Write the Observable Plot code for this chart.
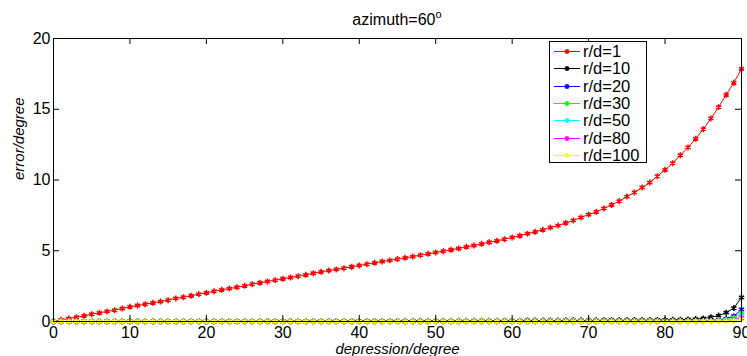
<!DOCTYPE html>
<html>
<head>
<meta charset="utf-8">
<script src="https://cdn.jsdelivr.net/npm/d3@7"></script>
<script src="https://cdn.jsdelivr.net/npm/@observablehq/plot@0.6"></script>
<style>
  html, body { margin: 0; padding: 0; background: #fff; }
  #wrap { position: relative; width: 747px; height: 356px; font-family: "Liberation Sans", Arial, sans-serif; }
  #title { position: absolute; left: 297px; width: 200px; top: 11px; text-align: center; font-size: 16px; line-height: 18px; color: #000; }
  #title sup { font-size: 11px; vertical-align: 7px; line-height: 0; }
  #legend { position: absolute; left: 549px; top: 41px; width: 98px; height: 122px; border: 1px solid #000; background: #fff; box-sizing: border-box; }
  #legend .row { position: absolute; left: 0; height: 17px; width: 97px; }
  #legend .row span { position: absolute; left: 33px; top: 0; font-size: 16.5px; line-height: 17px; color: #000; }
  #legend svg { position: absolute; left: 4px; top: 0; }
</style>
</head>
<body>
<div id="wrap"></div>
<script>
const depression = [
  0,1,2,3,4,5,6,7,8,9,10,11,12,13,14,15,16,17,18,19,20,21,22,23,24,25,26,27,28,29,
  30,31,32,33,34,35,36,37,38,39,40,41,42,43,44,45,46,47,48,49,50,51,52,53,54,55,56,57,58,59,
  60,61,62,63,64,65,66,67,68,69,70,71,72,73,74,75,76,77,78,79,80,81,82,83,84,85,86,87,88,89,90
];
const rd1 = [
  0.00,0.12,0.21,0.30,0.40,0.52,0.61,0.71,0.80,0.92,
  1.04,1.13,1.22,1.32,1.41,1.51,1.63,1.72,1.82,1.93,
  2.03,2.14,2.24,2.33,2.42,2.52,2.64,2.74,2.83,2.92,
  3.02,3.11,3.20,3.30,3.41,3.51,3.60,3.68,3.77,3.87,
  3.96,4.05,4.15,4.24,4.32,4.41,4.50,4.59,4.69,4.78,
  4.88,4.97,5.07,5.16,5.28,5.37,5.49,5.60,5.70,5.82,
  5.94,6.06,6.21,6.34,6.48,6.64,6.78,6.96,7.14,7.35,
  7.56,7.75,7.99,8.24,8.50,8.83,9.12,9.47,9.82,10.27,
  10.72,11.19,11.75,12.30,12.91,13.59,14.35,15.15,16.02,16.87,
  17.86
];
const rd10 = [
  0,0,0,0,0,0,0,0,0.01,0.01,
  0.01,0.01,0.01,0.01,0.01,0.01,0.01,0.02,0.02,0.02,
  0.02,0.02,0.02,0.02,0.02,0.02,0.02,0.03,0.03,0.03,
  0.03,0.03,0.03,0.03,0.03,0.03,0.03,0.04,0.04,0.04,
  0.04,0.04,0.04,0.04,0.04,0.04,0.05,0.05,0.05,0.05,
  0.05,0.05,0.05,0.05,0.05,0.06,0.06,0.06,0.06,0.06,
  0.06,0.06,0.07,0.07,0.07,0.07,0.07,0.08,0.08,0.08,
  0.08,0.08,0.09,0.09,0.09,0.09,0.10,0.10,0.10,0.11,
  0.12,0.12,0.13,0.15,0.17,0.22,0.30,0.42,0.62,0.95,
  1.70
];
const rd20 = [
  0,0,0,0,0,0,0,0,0,0,
  0,0,0,0,0,0,0,0,0,0,
  0,0,0,0,0,0,0,0,0,0,
  0.01,0.01,0.01,0.01,0.01,0.01,0.01,0.01,0.01,0.01,
  0.01,0.01,0.01,0.01,0.01,0.01,0.01,0.01,0.01,0.01,
  0.01,0.01,0.01,0.01,0.01,0.01,0.01,0.01,0.01,0.01,
  0.02,0.02,0.02,0.02,0.02,0.02,0.02,0.02,0.02,0.02,
  0.02,0.02,0.02,0.02,0.02,0.02,0.02,0.02,0.03,0.03,
  0.03,0.03,0.04,0.04,0.05,0.06,0.08,0.12,0.20,0.38,
  0.85
];
const rd30 = [
  0,0,0,0,0,0,0,0,0,0,
  0,0,0,0,0,0,0,0,0,0,
  0,0,0,0,0,0,0,0,0,0,
  0,0,0,0,0,0,0,0,0,0,
  0,0,0,0,0,0,0,0,0,0,
  0.01,0.01,0.01,0.01,0.01,0.01,0.01,0.01,0.01,0.01,
  0.01,0.01,0.01,0.01,0.01,0.01,0.01,0.01,0.01,0.01,
  0.01,0.01,0.01,0.01,0.01,0.01,0.01,0.01,0.02,0.02,
  0.02,0.02,0.02,0.03,0.03,0.04,0.05,0.08,0.13,0.25,
  0.60
];
const rd50 = [
  0,0,0,0,0,0,0,0,0,0,
  0,0,0,0,0,0,0,0,0,0,
  0,0,0,0,0,0,0,0,0,0,
  0,0,0,0,0,0,0,0,0,0,
  0,0,0,0,0,0,0,0,0,0,
  0,0,0,0,0,0,0,0,0,0,
  0,0,0,0,0,0,0,0,0,0,
  0.01,0.01,0.01,0.01,0.01,0.01,0.01,0.01,0.01,0.01,
  0.01,0.01,0.01,0.02,0.02,0.02,0.03,0.05,0.08,0.15,
  0.40
];
const rd80 = [
  0,0,0,0,0,0,0,0,0,0,
  0,0,0,0,0,0,0,0,0,0,
  0,0,0,0,0,0,0,0,0,0,
  0,0,0,0,0,0,0,0,0,0,
  0,0,0,0,0,0,0,0,0,0,
  0,0,0,0,0,0,0,0,0,0,
  0,0,0,0,0,0,0,0,0,0,
  0,0,0,0,0,0,0,0,0,0,
  0.01,0.01,0.01,0.01,0.01,0.01,0.02,0.03,0.05,0.10,
  0.26
];
const rd100 = [
  0,0,0,0,0,0,0,0,0,0,
  0,0,0,0,0,0,0,0,0,0,
  0,0,0,0,0,0,0,0,0,0,
  0,0,0,0,0,0,0,0,0,0,
  0,0,0,0,0,0,0,0,0,0,
  0,0,0,0,0,0,0,0,0,0,
  0,0,0,0,0,0,0,0,0,0,
  0,0,0,0,0,0,0,0,0,0,
  0,0,0.01,0.01,0.01,0.01,0.01,0.02,0.03,0.06,
  0.16
];
const seriesNames = ["r/d=1","r/d=10","r/d=20","r/d=30","r/d=50","r/d=80","r/d=100"];
const seriesValues = [rd1, rd10, rd20, rd30, rd50, rd80, rd100];
const seriesColors = ["#ff0000","#000000","#0000ff","#00ff00","#00ffff","#ff00ff","#ffff00"];
const xTicks = [0,10,20,30,40,50,60,70,80,90];
const yTicks = [0,5,10,15,20];

const W = 747, H = 356, ML = 53, MR = 6, MT = 38, MB = 35;
const FW = W - ML - MR, FH = H - MT - MB, TL = 6;

const table = seriesNames.flatMap((name, i) =>
  depression.map((x, j) => ({name, x, y: seriesValues[i][j]})));

const lineMarks = seriesNames.flatMap((name, i) => {
  const d = table.filter(r => r.name === name);
  return [
    Plot.line(d, {x: "x", y: "y", stroke: seriesColors[i], strokeWidth: 1}),
    Plot.dot(d, {x: "x", y: "y", symbol: "asterisk", r: 2.8, stroke: seriesColors[i], strokeWidth: 1.5})
  ];
});

const chart = Plot.plot({
  width: W,
  height: H,
  marginLeft: ML,
  marginRight: MR,
  marginTop: MT,
  marginBottom: MB,
  style: {fontFamily: "'Liberation Sans', Arial, sans-serif", fontSize: "16px", background: "#fff", color: "#000", overflow: "visible"},
  x: {domain: [0, 90]},
  y: {domain: [0, 20]},
  marks: [
    ...lineMarks,
    Plot.frame({stroke: "#000", strokeWidth: 1}),
    Plot.ruleX(xTicks, {x: d => d, insetTop: FH - TL, stroke: "#000"}),
    Plot.ruleX(xTicks, {x: d => d, insetBottom: FH - TL, stroke: "#000"}),
    Plot.ruleY(yTicks, {y: d => d, insetRight: FW - TL, stroke: "#000"}),
    Plot.ruleY(yTicks, {y: d => d, insetLeft: FW - TL, stroke: "#000"}),
    Plot.axisX({ticks: xTicks, tickSize: 0, tickPadding: 5, fontSize: 16, label: null, tickFormat: d => String(d)}),
    Plot.axisY({ticks: yTicks, tickSize: 0, tickPadding: 3, fontSize: 16, label: null, tickFormat: d => String(d)}),
    Plot.text(["depression/degree"], {text: d => d, frameAnchor: "bottom", dy: 32, fontStyle: "italic", fontSize: 15}),
    Plot.text(["error/degree"], {text: d => d, frameAnchor: "left", dx: -34, rotate: -90, fontStyle: "italic", fontSize: 15})
  ]
});

const wrap = document.getElementById("wrap");
wrap.appendChild(chart);

const title = document.createElement("div");
title.id = "title";
title.innerHTML = "azimuth=60<sup>o</sup>";
wrap.appendChild(title);

const legend = document.createElement("div");
legend.id = "legend";
seriesNames.forEach((name, i) => {
  const row = document.createElement("div");
  row.className = "row";
  row.style.top = (1 + i * 17.3) + "px";
  const c = seriesColors[i];
  row.innerHTML = `<svg width="28" height="17"><line x1="0" y1="8.5" x2="26" y2="8.5" stroke="${c}" stroke-width="1"/>` +
    `<g stroke="${c}" stroke-width="1.5" transform="translate(13,8.5)"><line x1="-2.5" y1="0" x2="2.5" y2="0"/><line x1="0" y1="-2.5" x2="0" y2="2.5"/><line x1="-1.8" y1="-1.8" x2="1.8" y2="1.8"/><line x1="-1.8" y1="1.8" x2="1.8" y2="-1.8"/></g></svg>` +
    `<span>${name}</span>`;
  legend.appendChild(row);
});
wrap.appendChild(legend);
</script>
</body>
</html>
